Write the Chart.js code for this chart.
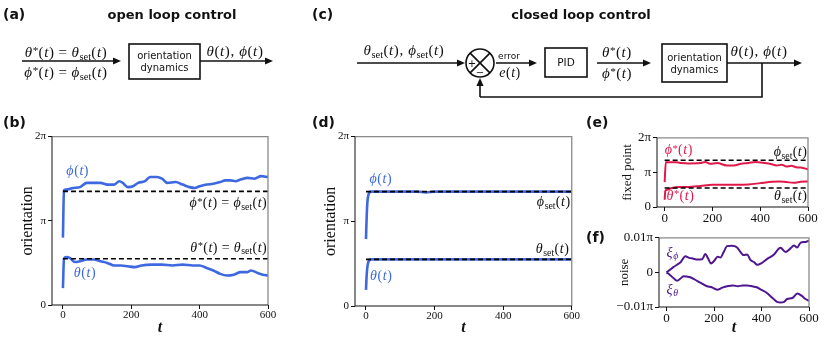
<!DOCTYPE html>
<html>
<head>
<meta charset="utf-8">
<script src="https://cdn.jsdelivr.net/npm/chart.js@4.4.0/dist/chart.umd.min.js"></script>
<style>
html, body { margin: 0; padding: 0; background: #fff; }
#fig { position: relative; width: 830px; height: 337px; overflow: hidden; background: #fff; }
canvas { position: absolute; }
</style>
</head>
<body>
<div id="fig">
  <canvas id="diagram" width="830" height="337" style="left:0;top:0"></canvas>
  <canvas id="chartB" width="278" height="209" style="left:0;top:128px"></canvas>
  <canvas id="chartD" width="280" height="209" style="left:300px;top:128px"></canvas>
  <canvas id="chartE" width="220" height="97" style="left:600px;top:128px"></canvas>
  <canvas id="chartF" width="220" height="109" style="left:600px;top:228px"></canvas>
</div>
<script>
// all orientations are in units of pi
var PHI_SET = 1.35;
var THETA_SET = 0.55;
var setT = [0, 600];

// (b) open loop
var openT_phi = [0,3,10,30,50,70,90,110,130,150,165,175,190,205,220,240,255,275,290,305,330,350,370,385,400,420,440,460,475,490,505,520,540,560,580,600];
var openPhi = [0.80,1.36,1.37,1.39,1.40,1.45,1.45,1.45,1.43,1.43,1.47,1.45,1.40,1.41,1.45,1.47,1.52,1.52,1.50,1.45,1.46,1.43,1.40,1.39,1.41,1.43,1.44,1.46,1.48,1.48,1.47,1.49,1.51,1.50,1.53,1.52];
var openT_theta = [0,3,10,20,35,50,70,90,110,130,150,170,190,210,230,260,290,320,350,380,400,420,440,460,480,500,520,540,550,570,585,600];
var openTheta = [0.20,0.55,0.57,0.56,0.51,0.52,0.54,0.54,0.52,0.50,0.47,0.47,0.46,0.45,0.47,0.48,0.48,0.47,0.48,0.47,0.47,0.44,0.41,0.37,0.35,0.36,0.39,0.39,0.41,0.38,0.36,0.35];

// (d) closed loop
var closedT = [0,2,4,7,10,15,25,50,100,150,175,200,250,300,350,400,450,500,550,600];
var closedPhi = [0.79,1.05,1.22,1.31,1.34,1.35,1.35,1.35,1.35,1.35,1.34,1.35,1.35,1.35,1.35,1.35,1.35,1.35,1.35,1.35];
var closedTheta = [0.19,0.36,0.46,0.52,0.54,0.55,0.55,0.55,0.55,0.55,0.55,0.55,0.55,0.55,0.55,0.55,0.55,0.55,0.55,0.55];

// (e) fixed point
var fixT_phi = [0,5,10,30,50,70,100,150,170,190,220,260,290,320,350,380,410,440,470,490,510,530,550,570,600];
var fixPhi = [0.72,1.30,1.29,1.29,1.29,1.27,1.26,1.27,1.30,1.25,1.27,1.20,1.20,1.25,1.27,1.30,1.28,1.25,1.20,1.22,1.17,1.19,1.15,1.14,1.09];
var fixT_theta = [0,3,10,30,60,100,150,200,250,300,350,400,450,480,510,540,570,600];
var fixTheta = [0.21,0.47,0.50,0.55,0.58,0.58,0.61,0.64,0.64,0.64,0.65,0.69,0.73,0.74,0.72,0.70,0.73,0.74];

// (f) noise
var noiseT_phi = [0,15,30,44,60,79,95,110,130,150,163,175,187,200,215,227,240,255,275,297,310,325,340,353,368,382,400,424,450,480,501,520,537,550,565,585,600];
var noisePhi = [0,0.0008,0.0016,0.0022,0.003,0.0047,0.0042,0.004,0.0037,0.0038,0.0053,0.004,0.0026,0.0033,0.0045,0.0043,0.0058,0.0076,0.0077,0.0072,0.006,0.005,0.0052,0.0036,0.003,0.0022,0.0027,0.0039,0.005,0.0071,0.0059,0.0068,0.0078,0.0072,0.0086,0.0088,0.0092];
var noiseT_theta = [0,15,30,44,60,72,85,100,130,170,190,213,235,255,280,300,320,340,360,380,396,420,451,465,480,495,508,530,551,570,585,600];
var noiseTheta = [0,-0.0008,-0.0017,-0.0024,-0.0017,-0.0011,-0.0012,-0.0014,-0.0025,-0.004,-0.0043,-0.005,-0.0044,-0.004,-0.0038,-0.004,-0.0038,-0.0038,-0.004,-0.0043,-0.0049,-0.0058,-0.0077,-0.0085,-0.0087,-0.0085,-0.0077,-0.0074,-0.0061,-0.0068,-0.0077,-0.0082];

// tick labels
var tTicks = [0, 200, 400, 600];
var angleTicks = [0, 1, 2];
var angleLabels = ['0', 'π', '2π'];
var noiseTicks = [-0.01, 0, 0.01];
var noiseLabels = ['−0.01π', '0', '0.01π'];

var BLUE = '#3e68df', RED = '#e0194b', PURPLE = '#4e178f';
var SERIF = '"Liberation Serif", "DejaVu Serif", serif';
var SANS = '"DejaVu Sans", sans-serif';

/*******************************
* tiny math text: greek/latin letters italic,
* ^x superscript, _{..} subscript
*******************************/
function mathParts(s) {
  var parts = [], i = 0;
  while (i < s.length) {
    var c = s[i];
    if (c === '^' || c === '_') {
      var body;
      if (s[i+1] === '{') { var j = s.indexOf('}', i); body = s.slice(i+2, j); i = j+1; }
      else { body = s[i+1]; i += 2; }
      parts.push({t: body, k: c === '^' ? 'sup' : 'sub', it: /[\u03b1-\u03d5]/.test(body)});
    } else {
      parts.push({t: c, k: 'n', it: /[A-Za-z\u03b1-\u03d5]/.test(c)});
      i++;
    }
  }
  return parts;
}

function drawMath(ctx, s, x, y, size, color, align) {
  var parts = mathParts(s), w = 0;
  parts.forEach(function(p) {
    var fs = p.k === 'n' ? size : (p.k === 'sup' ? size*0.75 : size*0.7);
    p.font = (p.it ? 'italic ' : '') + fs + 'px ' + SERIF;
    ctx.font = p.font;
    p.w = ctx.measureText(p.t).width + (p.k === 'n' ? size*0.04 : size*0.02);
    if (p.t === '=') { p.pad = size*0.26; p.w += 2*p.pad; }
    w += p.w;
  });
  var cx = align === 'right' ? x - w : (align === 'center' ? x - w/2 : x);
  ctx.save();
  ctx.fillStyle = color;
  ctx.textAlign = 'left';
  ctx.textBaseline = 'alphabetic';
  parts.forEach(function(p) {
    ctx.font = p.font;
    var dy = p.k === 'sup' ? -size*0.2 : (p.k === 'sub' ? size*0.18 : 0);
    ctx.fillText(p.t, cx + (p.pad || 0), y + dy);
    cx += p.w;
  });
  ctx.restore();
}

function series(ts, vs, color, width, dash, order) {
  return {
    data: ts.map(function(t, i) { return {x: t, y: vs[i]}; }),
    borderColor: color, borderWidth: width, borderDash: dash || [],
    pointRadius: 0, fill: false, cubicInterpolationMode: 'monotone', order: order
  };
}

function notesPlugin(items) {
  return {
    id: 'notes',
    afterDatasetsDraw: function(chart) {
      var ctx = chart.ctx, a = chart.chartArea;
      ctx.save();
      ctx.lineWidth = 1.3;
      ctx.strokeStyle = '#8a8a8a';
      ctx.beginPath();
      ctx.moveTo(a.left, a.top); ctx.lineTo(a.right, a.top); ctx.lineTo(a.right, a.bottom);
      ctx.stroke();
      ctx.strokeStyle = '#111';
      ctx.lineWidth = 1;
      ctx.beginPath();
      ctx.moveTo(a.left, a.top); ctx.lineTo(a.left, a.bottom); ctx.lineTo(a.right, a.bottom);
      ctx.stroke();
      ctx.restore();
      items.forEach(function(n) {
        drawMath(ctx, n.text, chart.scales.x.getPixelForValue(n.x),
          chart.scales.y.getPixelForValue(n.y), n.size || 14, n.color, n.align);
      });
    }
  };
}

function makeChart(id, o) {
  return new Chart(document.getElementById(id), {
    type: 'line',
    data: { datasets: o.datasets },
    options: {
      responsive: false, animation: false, devicePixelRatio: 1,
      layout: { padding: o.pad },
      plugins: { legend: {display: false}, tooltip: {enabled: false} },
      scales: {
        x: {
          type: 'linear', min: -32, max: 600,
          afterBuildTicks: function(s) { s.ticks = tTicks.map(function(v) { return {value: v}; }); },
          afterFit: function(s) { s.height = o.xh; },
          grid: { drawOnChartArea: false, tickLength: 4, color: '#111' },
          border: { display: false },
          ticks: { font: {family: SERIF, size: o.tickSize}, color: '#111', padding: 0, maxRotation: 0,
                   callback: function(v) { return String(v); } },
          title: { display: o.xTitle, text: 't', color: '#111', padding: {top: 0, bottom: 0},
                   font: {family: SERIF, size: 16, style: 'italic', weight: 'bold'} }
        },
        y: {
          type: 'linear', min: o.yTicks[0], max: o.yTicks[o.yTicks.length - 1],
          afterBuildTicks: function(s) { s.ticks = o.yTicks.map(function(v) { return {value: v}; }); },
          afterFit: function(s) { s.width = o.yw; },
          grid: { drawOnChartArea: false, tickLength: 4, color: '#111' },
          border: { display: false },
          ticks: { font: {family: SERIF, size: o.tickSize}, color: '#111', padding: 2,
                   callback: function(v, i) { return o.yLabels[i]; } },
          title: { display: true, text: o.yTitle, color: '#111', padding: {top: 4, bottom: 0},
                   font: {family: SERIF, size: o.yTitleSize} }
        }
      }
    },
    plugins: [notesPlugin(o.notes)]
  });
}

// (b)
makeChart('chartB', {
  pad: {left: 14, top: 8, right: 10, bottom: 0}, yw: 38, xh: 32, tickSize: 11,
  xTitle: true, yTitle: 'orientation', yTitleSize: 16, yTicks: angleTicks, yLabels: angleLabels,
  datasets: [
    series(setT, [PHI_SET, PHI_SET], '#000', 1.6, [5, 3], 0),
    series(setT, [THETA_SET, THETA_SET], '#000', 1.6, [5, 3], 0),
    series(openT_phi, openPhi, BLUE, 2.6, null, 1),
    series(openT_theta, openTheta, BLUE, 2.6, null, 1)
  ],
  notes: [
    {text: 'ϕ(t)', x: 10, y: 1.54, color: BLUE},
    {text: 'ϕ^*(t)=ϕ_{set}(t)', x: 598, y: 1.16, color: '#111', align: 'right'},
    {text: 'θ^*(t)=θ_{set}(t)', x: 598, y: 0.63, color: '#111', align: 'right'},
    {text: 'θ(t)', x: 32, y: 0.33, color: BLUE}
  ]
});

// (d)
makeChart('chartD', {
  pad: {left: 17, top: 8, right: 8, bottom: 0}, yw: 38, xh: 31, tickSize: 11,
  xTitle: true, yTitle: 'orientation', yTitleSize: 16, yTicks: angleTicks, yLabels: angleLabels,
  datasets: [
    series(setT, [PHI_SET, PHI_SET], '#000', 1.6, [5, 3], 0),
    series(setT, [THETA_SET, THETA_SET], '#000', 1.6, [5, 3], 0),
    series(closedT, closedPhi, BLUE, 2.6, null, 1),
    series(closedT, closedTheta, BLUE, 2.6, null, 1)
  ],
  notes: [
    {text: 'ϕ(t)', x: 10, y: 1.45, color: BLUE},
    {text: 'ϕ_{set}(t)', x: 597, y: 1.18, color: '#111', align: 'right'},
    {text: 'θ_{set}(t)', x: 593, y: 0.62, color: '#111', align: 'right'},
    {text: 'θ(t)', x: 12, y: 0.31, color: BLUE}
  ]
});

// (e)
makeChart('chartE', {
  pad: {left: 16, top: 8, right: 12, bottom: 0}, yw: 41, xh: 18, tickSize: 13,
  xTitle: false, yTitle: 'fixed point', yTitleSize: 13, yTicks: angleTicks, yLabels: angleLabels,
  datasets: [
    series(setT, [PHI_SET, PHI_SET], '#000', 1.4, [5, 3], 0),
    series(setT, [THETA_SET, THETA_SET], '#000', 1.4, [5, 3], 0),
    series(fixT_phi, fixPhi, RED, 2, null, 1),
    series(fixT_theta, fixTheta, RED, 2, null, 1)
  ],
  notes: [
    {text: 'ϕ^*(t)', x: 0, y: 1.52, color: RED},
    {text: 'ϕ_{set}(t)', x: 598, y: 1.47, color: '#111', align: 'right'},
    {text: 'θ^*(t)', x: 8, y: 0.2, color: RED},
    {text: 'θ_{set}(t)', x: 598, y: 0.19, color: '#111', align: 'right'}
  ]
});

// (f)
makeChart('chartF', {
  pad: {left: 13, top: 8, right: 11, bottom: 0}, yw: 46, xh: 30, tickSize: 13,
  xTitle: true, yTitle: 'noise', yTitleSize: 13, yTicks: noiseTicks, yLabels: noiseLabels,
  datasets: [
    series(noiseT_phi, noisePhi, PURPLE, 2, null, 1),
    series(noiseT_theta, noiseTheta, PURPLE, 2, null, 1)
  ],
  notes: [
    {text: 'ξ_ϕ', x: 0, y: 0.0045, color: PURPLE},
    {text: 'ξ_θ', x: 0, y: -0.0062, color: PURPLE}
  ]
});

/*******************************
* block diagrams and panel labels
*******************************/
var d = document.getElementById('diagram').getContext('2d');

function arrow(x1, y1, x2, y2) {
  var ang = Math.atan2(y2 - y1, x2 - x1), L = 8, H = 3.6;
  d.beginPath();
  d.moveTo(x1, y1);
  d.lineTo(x2 - L*Math.cos(ang), y2 - L*Math.sin(ang));
  d.stroke();
  d.beginPath();
  d.moveTo(x2, y2);
  d.lineTo(x2 - L*Math.cos(ang) - H*Math.sin(ang), y2 - L*Math.sin(ang) + H*Math.cos(ang));
  d.lineTo(x2 - L*Math.cos(ang) + H*Math.sin(ang), y2 - L*Math.sin(ang) - H*Math.cos(ang));
  d.closePath();
  d.fill();
}

function label(txt, x, y, font, align) {
  d.font = font;
  d.textAlign = align || 'left';
  d.textBaseline = 'alphabetic';
  d.fillText(txt, x, y);
}

function box(x, y, w, h, lines, size) {
  d.lineWidth = 1.6;
  d.strokeRect(x, y, w, h);
  var n = lines.length;
  lines.forEach(function(s, i) {
    label(s, x + w/2, y + h/2 + (i - (n - 1)/2)*12 + size*0.36, size + 'px ' + SANS, 'center');
  });
}

d.fillStyle = '#111';
d.strokeStyle = '#111';
d.lineWidth = 1.6;

var PANEL = 'bold 14px ' + SANS;
label('(a)', 3, 19, PANEL);
label('open loop control', 172, 19, 'bold 13px ' + SANS, 'center');
label('(c)', 312, 19, PANEL);
label('closed loop control', 581, 19, 'bold 13px ' + SANS, 'center');
label('(b)', 3, 127, PANEL);
label('(d)', 312, 127, PANEL);
label('(e)', 586, 127, PANEL);
label('(f)', 586, 242, PANEL);

// open loop
d.lineWidth = 1.6;
arrow(22, 61, 121, 61);
drawMath(d, 'θ^*(t)=θ_{set}(t)', 66, 57, 15, '#111', 'center');
drawMath(d, 'ϕ^*(t)=ϕ_{set}(t)', 66, 77, 15, '#111', 'center');
box(129, 44, 71, 35, ['orientation', 'dynamics'], 10);
d.lineWidth = 1.6;
arrow(200, 61, 273, 61);
drawMath(d, 'θ(t), ϕ(t)', 235, 56, 15, '#111', 'center');

// closed loop
arrow(357, 63, 465, 63);
drawMath(d, 'θ_{set}(t), ϕ_{set}(t)', 404, 55, 15, '#111', 'center');
d.lineWidth = 1.6;
d.beginPath(); d.arc(480, 63, 14, 0, Math.PI*2); d.stroke();
var r = 14*Math.SQRT1_2;
d.beginPath();
d.moveTo(480 - r, 63 - r); d.lineTo(480 + r, 63 + r);
d.moveTo(480 + r, 63 - r); d.lineTo(480 - r, 63 + r);
d.stroke();
label('+', 472, 67, '10px ' + SANS, 'center');
label('−', 480, 76, '10px ' + SANS, 'center');
arrow(496, 63, 537, 63);
label('error', 509, 59, '9px ' + SANS, 'center');
drawMath(d, 'e(t)', 510, 77, 14, '#111', 'center');
box(545, 48, 42, 29, ['PID'], 10.5);
d.lineWidth = 1.6;
arrow(597, 63, 651, 63);
drawMath(d, 'θ^*(t)', 617, 57, 15, '#111', 'center');
drawMath(d, 'ϕ^*(t)', 617, 78, 15, '#111', 'center');
box(662, 44, 65, 38, ['orientation', 'dynamics'], 10);
d.lineWidth = 1.6;
arrow(727, 63, 802, 63);
drawMath(d, 'θ(t), ϕ(t)', 759, 56, 15, '#111', 'center');
d.beginPath();
d.moveTo(762, 63); d.lineTo(762, 97); d.lineTo(480, 97);
d.stroke();
arrow(480, 97, 480, 78);
</script>
</body>
</html>
